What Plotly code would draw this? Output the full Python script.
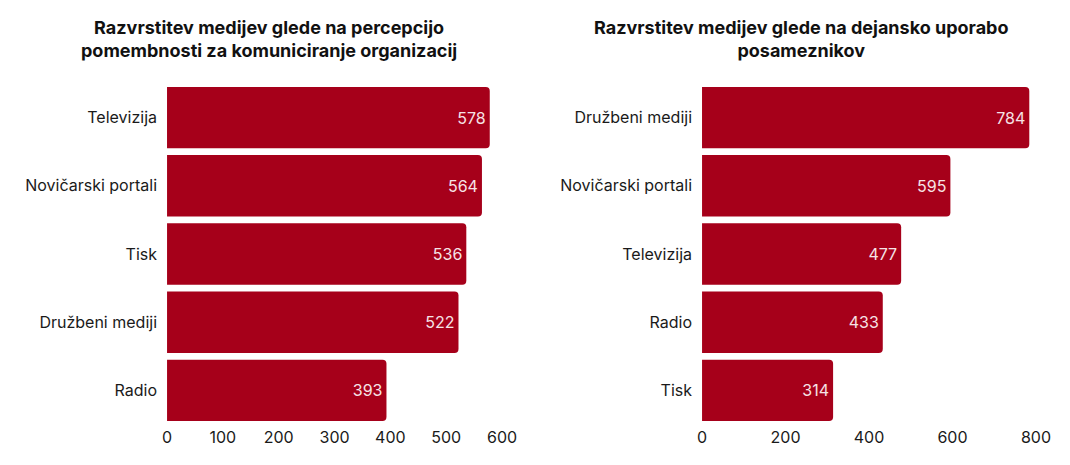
import plotly.graph_objects as go

left_title = "Razvrstitev medijev glede na percepcijo<br>pomembnosti za komuniciranje organizacij"
right_title = "Razvrstitev medijev glede na dejansko uporabo<br>posameznikov"

left_categories = ["Televizija", "Novičarski portali", "Tisk", "Družbeni mediji", "Radio"]
left_values = [578, 564, 536, 522, 393]
left_ticks = [0, 100, 200, 300, 400, 500, 600]

right_categories = ["Družbeni mediji", "Novičarski portali", "Televizija", "Radio", "Tisk"]
right_values = [784, 595, 477, 433, 314]
right_ticks = [0, 200, 400, 600, 800]

BAR = "#A6001A"
FONT = "Inter, Lato, Roboto, sans-serif"

fig = go.Figure()
for cats, vals, xa, ya in [(left_categories, left_values, "x", "y"),
                           (right_categories, right_values, "x2", "y2")]:
    fig.add_trace(go.Bar(
        x=vals, y=cats, orientation="h", xaxis=xa, yaxis=ya,
        marker=dict(color=BAR, cornerradius=4, line=dict(width=0)),
        text=[str(v) for v in vals], textposition="inside",
        insidetextanchor="end",
        textfont=dict(color="#F6E3E6", size=16, family=FONT),
        hoverinfo="skip", showlegend=False,
    ))

ydom = [0.0871, 0.8204]
axis_font = dict(size=16, color="#1a1a1a", family=FONT)
common = dict(showgrid=False, zeroline=False, showline=False, tickfont=axis_font,
              ticks="", automargin=False, fixedrange=True)
fig.update_layout(
    width=1070, height=465,
    margin=dict(l=0, r=0, t=0, b=0, autoexpand=False),
    paper_bgcolor="white", plot_bgcolor="white",
    bargap=0.1,
    font=dict(family=FONT),
    xaxis=dict(domain=[0.1561, 0.4692], range=[0, 600], tickvals=left_ticks,
               ticklabelstandoff=2, **common),
    yaxis=dict(domain=ydom, autorange="reversed", ticklabelstandoff=9, **common),
    xaxis2=dict(domain=[0.6561, 0.9682], range=[0, 800], tickvals=right_ticks,
                ticklabelstandoff=2, anchor="y2", **common),
    yaxis2=dict(domain=ydom, anchor="x2", autorange="reversed",
                ticklabelstandoff=9, **common),
    annotations=[
        dict(text="<b>" + left_title + "</b>", x=0.251, y=1 - 39 / 465,
             xref="paper", yref="paper", showarrow=False, xanchor="center",
             yanchor="middle", align="center",
             font=dict(size=18, color="#111111", family=FONT)),
        dict(text="<b>" + right_title + "</b>", x=0.749, y=1 - 39 / 465,
             xref="paper", yref="paper", showarrow=False, xanchor="center",
             yanchor="middle", align="center",
             font=dict(size=18, color="#111111", family=FONT)),
    ],
)
fig.write_html("out.html", config={"displayModeBar": False},
               post_script="document.body.style.margin='0';")
